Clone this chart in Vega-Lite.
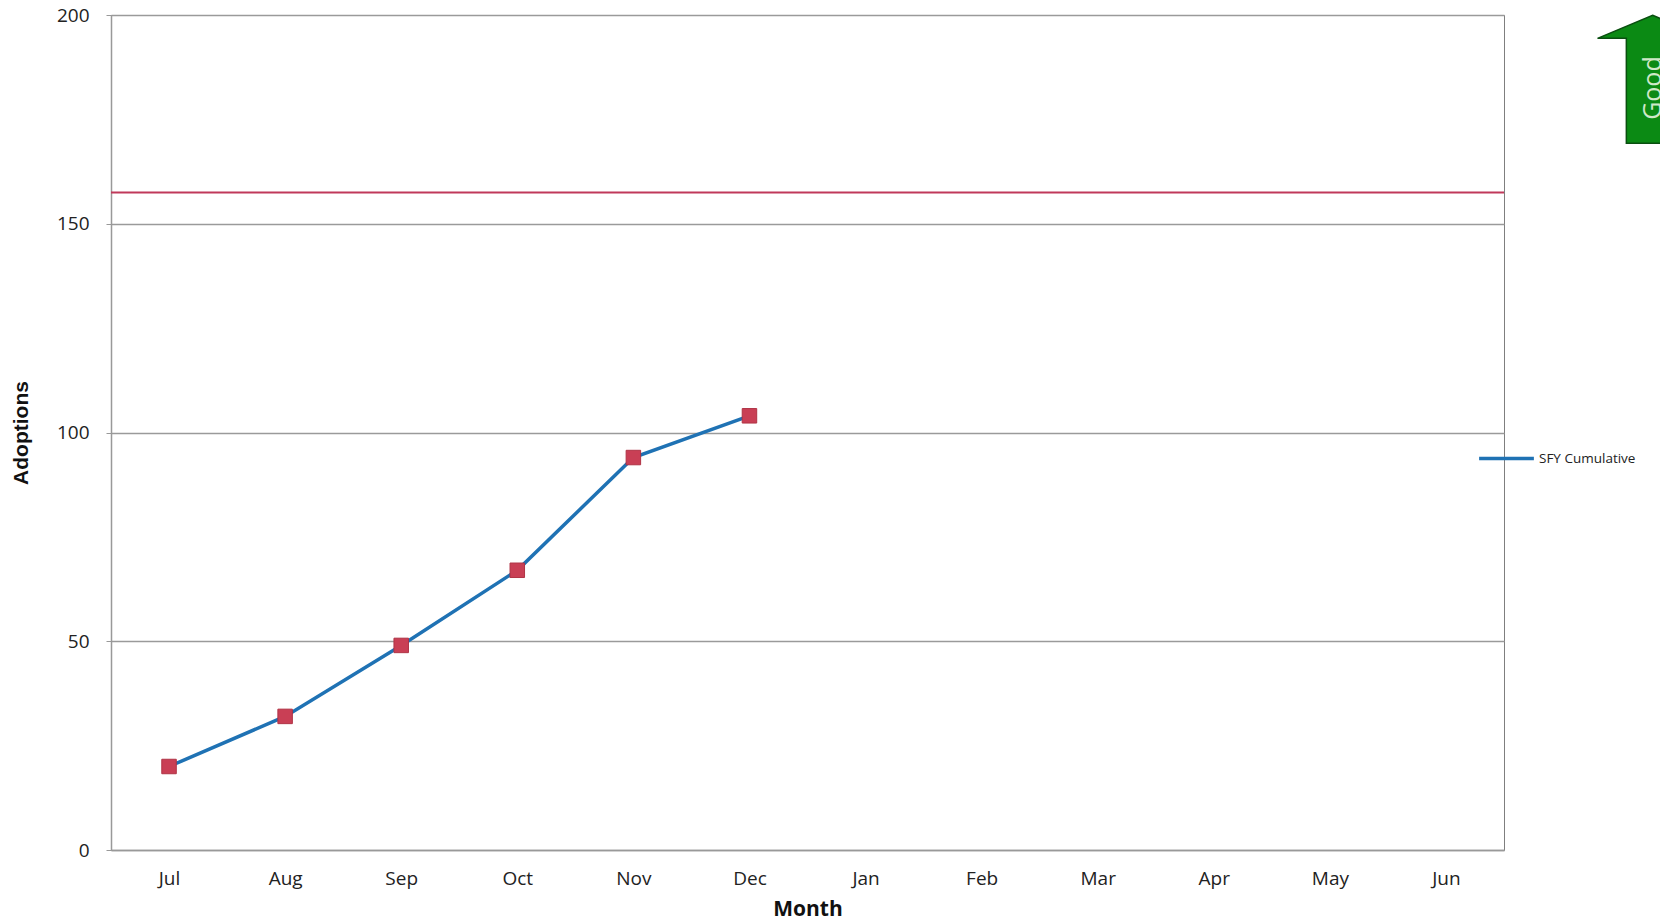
{
  "$schema": "https://vega.github.io/schema/vega-lite/v6.json",
  "autosize": "none",
  "width": 1393,
  "height": 835,
  "padding": {"left": 111, "top": 15, "right": 156, "bottom": 71},
  "background": "white",
  "config": {
    "view": {"stroke": "#7f7f7f", "strokeWidth": 1},
    "font": "Open Sans"
  },
  "datasets": {
    "series": [
      {"month": "Jul", "value": 20, "series": "SFY Cumulative"},
      {"month": "Aug", "value": 32, "series": "SFY Cumulative"},
      {"month": "Sep", "value": 49, "series": "SFY Cumulative"},
      {"month": "Oct", "value": 67, "series": "SFY Cumulative"},
      {"month": "Nov", "value": 94, "series": "SFY Cumulative"},
      {"month": "Dec", "value": 104, "series": "SFY Cumulative"}
    ],
    "target": [{"target": 157.5}],
    "arrow": [{"pos": 13.28, "ay": 184.6, "ty": 182.5, "label": "Good"}]
  },
  "layer": [
    {
      "layer": [
        {
          "data": {"name": "target"},
          "mark": {"type": "rule", "color": "#c0395a", "strokeWidth": 2},
          "encoding": {
            "y": {"field": "target", "type": "quantitative", "scale": {"domain": [0, 200]}}
          }
        },
        {
          "data": {"name": "series"},
          "mark": {"type": "line", "strokeWidth": 3.5},
          "encoding": {
            "x": {
              "field": "month", "type": "nominal",
              "sort": ["Jul","Aug","Sep","Oct","Nov","Dec","Jan","Feb","Mar","Apr","May","Jun"],
              "scale": {"domain": ["Jul","Aug","Sep","Oct","Nov","Dec","Jan","Feb","Mar","Apr","May","Jun"], "paddingInner": 0, "paddingOuter": 0},
              "axis": {
                "title": "Month", "titleFont": "Open Sans", "titleFontWeight": "bold", "titleFontSize": 21, "titleColor": "#111",
                "titlePadding": 10,
                "labelAngle": 0, "labelFont": "Open Sans", "labelFontSize": 19, "labelColor": "#222", "labelPadding": 19,
                "ticks": false, "domainColor": "#999", "domainWidth": 1.5, "grid": false
              }
            },
            "y": {
              "field": "value", "type": "quantitative",
              "scale": {"domain": [0, 200], "nice": false},
              "axis": {
                "title": "Adoptions", "titleFont": "Liberation Sans", "titleFontWeight": "bold", "titleFontSize": 21, "titleColor": "#111",
                "titlePadding": 25,
                "values": [0, 50, 100, 150, 200],
                "labelFont": "Open Sans", "labelFontSize": 19, "labelColor": "#222", "labelPadding": 17,
                "tickSize": 5, "tickColor": "#999", "domainColor": "#999", "domainWidth": 1.5,
                "grid": true, "gridColor": "#9a9a9a", "gridWidth": 1.3
              }
            },
            "color": {
              "field": "series", "type": "nominal",
              "scale": {"domain": ["SFY Cumulative"], "range": ["#1f72b4"]},
              "legend": {
                "title": null, "orient": "none", "legendX": 1366, "legendY": 414,
                "symbolType": "stroke", "symbolSize": 3000, "symbolStrokeWidth": 3.5,
                "labelFont": "Open Sans", "labelFontSize": 13.5, "labelColor": "#222", "labelOffset": 3
              }
            }
          }
        },
        {
          "data": {"name": "series"},
          "mark": {"type": "point", "shape": "square", "filled": true, "size": 210, "color": "#c93f55", "opacity": 1, "stroke": "#b03345", "strokeWidth": 1},
          "encoding": {
            "x": {"field": "month", "type": "nominal", "sort": ["Jul","Aug","Sep","Oct","Nov","Dec","Jan","Feb","Mar","Apr","May","Jun"]},
            "y": {"field": "value", "type": "quantitative"}
          }
        }
      ]
    },
    {
      "data": {"name": "arrow"},
      "layer": [
        {
          "mark": {"type": "point", "shape": "M0,-1 L0.86,-0.64 L0.41,-0.64 L0.41,1 L-0.41,1 L-0.41,-0.64 L-0.86,-0.64 Z", "filled": true, "size": 16384, "color": "#0b8a14", "stroke": "#0a4f10", "strokeWidth": 1.5, "opacity": 1, "clip": false},
          "encoding": {
            "x": {"field": "pos", "type": "quantitative", "scale": {"domain": [0, 12]}, "axis": null},
            "y": {"field": "ay", "type": "quantitative"}
          }
        },
        {
          "mark": {"type": "text", "angle": 270, "font": "Open Sans", "fontSize": 25, "color": "#cfe8c8", "align": "center", "baseline": "middle"},
          "encoding": {
            "x": {"field": "pos", "type": "quantitative", "scale": {"domain": [0, 12]}, "axis": null},
            "y": {"field": "ty", "type": "quantitative"},
            "text": {"field": "label"}
          }
        }
      ]
    }
  ],
  "resolve": {"scale": {"x": "independent"}, "axis": {"x": "independent"}}
}
